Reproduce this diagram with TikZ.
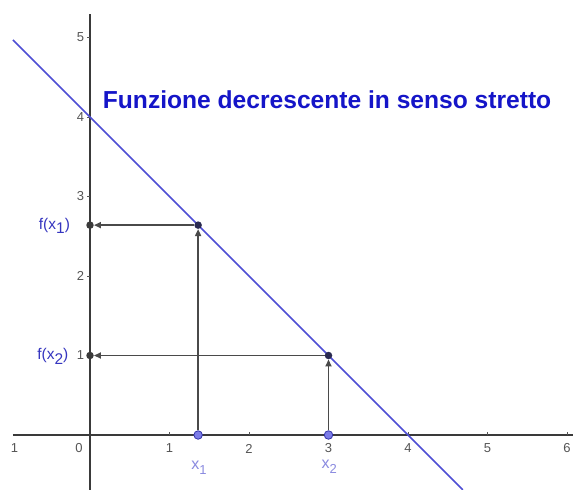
\documentclass[tikz,border=0pt]{standalone}
\usepackage{fontspec}
\setmainfont{Liberation Sans}
\usetikzlibrary{arrows.meta}
\definecolor{axisc}{HTML}{3A3A3A}
\definecolor{tickc}{HTML}{555555}
\definecolor{linec}{HTML}{4E4ED4}
\definecolor{titlec}{HTML}{1515C8}
\definecolor{flab}{HTML}{3535C0}
\definecolor{xlab}{HTML}{8A8AE0}
\definecolor{arrc}{HTML}{4A4A4A}
\definecolor{ptfill}{HTML}{7C7CE8}
\definecolor{ptdraw}{HTML}{3333AA}
\definecolor{cptc}{HTML}{2A2A50}
\newcommand{\subl}[1]{\raisebox{-0.3em}{#1}}
\tikzset{
  axis/.style={draw=axisc, line width=1.2pt},
  ticklab/.style={text=tickc, font=\fontsize{13}{15}\selectfont, inner sep=0pt},
  graphline/.style={draw=linec, line width=1.7pt},
  proj/.style={draw=arrc, line width=1.6pt, -{Triangle[length=7pt,width=6pt]}},
  ypt/.style={circle, fill=axisc, inner sep=0pt, minimum size=7.5pt},
  cpt/.style={circle, fill=cptc, inner sep=0pt, minimum size=7.5pt},
  xpt/.style={circle, fill=ptfill, draw=ptdraw, line width=0.8pt, inner sep=0pt, minimum size=8.5pt},
  flabel/.style={text=flab, font=\fontsize{15.5}{17}\selectfont, inner sep=0pt},
  xlabel/.style={text=xlab, font=\fontsize{16}{18}\selectfont, inner sep=0pt},
  titlestyle/.style={text=titlec, font=\fontsize{24.6}{28}\bfseries\selectfont, inner sep=0pt}
}
\begin{document}
\begin{tikzpicture}[x=1pt,y=-1pt]
\useasboundingbox (0,0) rectangle (574,490);
\fill[white] (0,0) rectangle (574,490);
\begin{scope}[shift={(90,435)}, x=79.5pt, y=79.5pt]
  % axes
  \coordinate (xl) at (-0.97,0);
  \coordinate (xr) at (6.07,0);
  \coordinate (yb) at (0,-0.7);
  \coordinate (yt) at (0,5.29);
  \draw[axis] (xl) -- (xr);
  \draw[axis] (yb) -- (yt);
  % ticks
  \foreach \i in {1,...,6} {\draw[draw=tickc, line width=0.8pt] (\i,0) -- (\i,0.035);}
  \foreach \i in {1,...,5} {\draw[draw=tickc, line width=0.8pt] (0,\i) -- (-0.035,\i);}
  % tick labels
  \node[ticklab] (tm1) at (-0.95,-0.17) {1};
  \node[ticklab] (t0) at (-0.14,-0.17) {0};
  \foreach \i in {1,...,6} {\node[ticklab] (tx\i) at (\i,-0.17) {\i};}
  \foreach \i in {1,...,5} {\node[ticklab] (ty\i) at (-0.12,\i) {\i};}
  % graph
  \coordinate (ga) at (-0.97,4.97);
  \coordinate (gb) at (4.69,-0.69);
  \draw[graphline] (ga) -- (gb);
  % points
  \node[xpt] (X1) at (1.36,0) {};
  \node[xpt] (X2) at (3,0) {};
  \node[cpt] (P1) at (1.36,2.64) {};
  \node[cpt] (P2) at (3,1) {};
  \node[ypt] (Y1) at (0,2.64) {};
  \node[ypt] (Y2) at (0,1) {};
  % projections
  \draw[proj] (X1) -- (P1);
  \draw[proj] (X2) -- (P2);
  \draw[proj] (P1) -- (Y1);
  \draw[proj] (P2) -- (Y2);
  % labels
  \node[flabel, anchor=east] (F1) at (-0.25,2.63) {f(x\subl{1})};
  \node[flabel, anchor=east] (F2) at (-0.27,0.99) {f(x\subl{2})};
  \node[xlabel] (L1) at (1.37,-0.41) {x\subl{\fontsize{13}{15}\selectfont 1}};
  \node[xlabel] (L2) at (3.01,-0.40) {x\subl{\fontsize{13}{15}\selectfont 2}};
  % title
  \node[titlestyle, anchor=west] (T) at (0.16,4.22) {Funzione decrescente in senso stretto};
\end{scope}
\end{tikzpicture}
\end{document}
